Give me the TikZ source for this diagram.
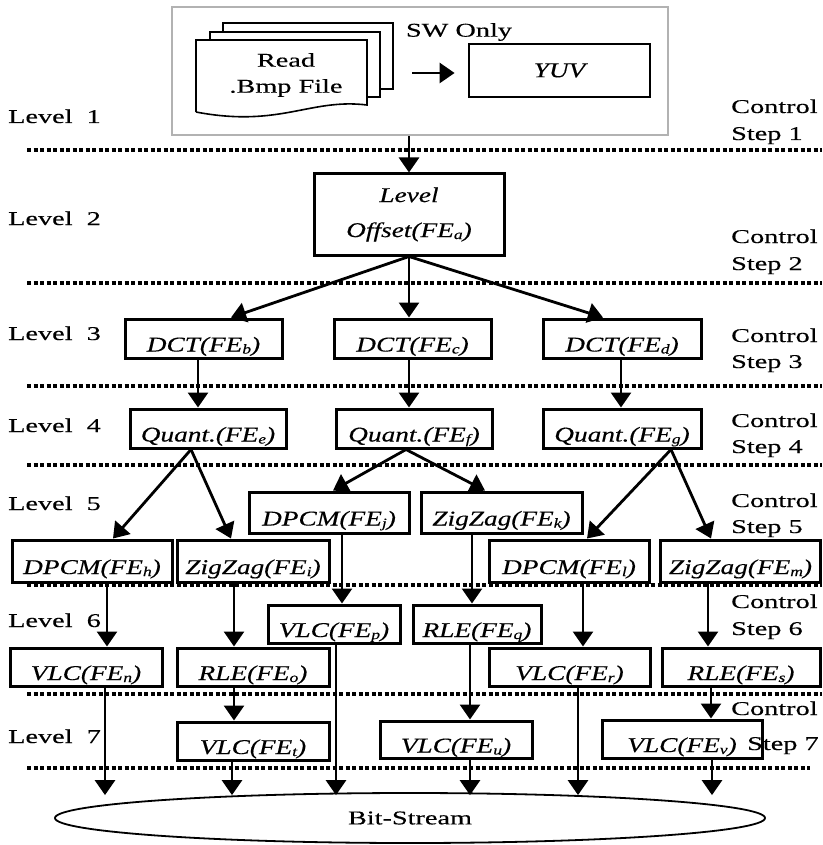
\documentclass[tikz,border=0pt]{standalone}
\usepackage{fontspec}
\setmainfont{Liberation Serif}[FakeStretch=1.45,FakeBold=0.3]
\newfontfamily\boxfont{Liberation Serif}[FakeStretch=1.3,FakeBold=0.3]
\usetikzlibrary{arrows.meta,shapes.geometric}
\newcommand\fsb[1]{\raisebox{-2pt}{\fontsize{13.5}{13.5}\selectfont #1}}
\newcommand\FE[1]{(FE\fsb{#1})}
\begin{document}
\begin{tikzpicture}[x=1pt,y=-1pt,
  font=\fontsize{19.5}{27}\selectfont,
  arr/.style={line width=2.8pt,-{Triangle[length=15pt,width=20pt]}},
  fbox/.style={draw,line width=3pt,inner xsep=0pt,inner ysep=0pt,text height=28pt,text depth=2pt,font=\boxfont\fontsize{21}{27}\selectfont\itshape},
  lab/.style={inner sep=0pt,text height=14pt,text depth=4pt,anchor=west},
  dots/.style={line width=3.2pt,dash pattern=on 4pt off 2.5pt},
  doc/.style={draw,line width=1.6pt,fill=white}
]
\useasboundingbox (0,0) rectangle (822,845);

% top software-only group
\node[draw=black!30,line width=2.6pt,minimum width=496pt,minimum height=128pt,inner sep=0pt] (sw) at (420,71) {};
\draw[doc] (223,23) rectangle (393,89);
\draw[doc] (210,32) rectangle (380,97);
\draw[doc] (196,112) -- (196,40) -- (367,40) -- (367,105) .. controls (310,98) and (280,128) .. (196,112);
\node[align=center,font=\fontsize{19.5}{26}\selectfont] (read) at (286,75) {Read\\.Bmp File};
\node[inner sep=0pt] (swonly) at (459,32) {SW Only};
\node[draw,line width=2.8pt,minimum width=181pt,minimum height=53pt,inner sep=0pt,font=\boxfont\fontsize{21}{27}\selectfont\itshape] (yuv) at (559.5,70.5) {YUV};
\coordinate (docedge) at (393,73);
\draw[arr,shorten <=19pt,shorten >=13pt] (docedge) -- (docedge -| yuv.west);

% level offset
\node[draw,line width=3pt,minimum width=190pt,minimum height=81pt,inner sep=0pt,align=center,font=\boxfont\fontsize{21}{35}\selectfont\itshape] (LO) at (409,214.5) {Level\\Offset\FE{a}};
\draw[arr] (sw.south -| LO.north) -- (LO.north);

% level 3
\node[fbox,minimum width=157pt,minimum height=39pt] (b) at (203.5,338.5) {DCT\FE{b}};
\node[fbox,minimum width=157pt,minimum height=39pt] (c) at (412.5,338.5) {DCT\FE{c}};
\node[fbox,minimum width=158pt,minimum height=39pt] (d) at (622,338.5) {DCT\FE{d}};
% level 4
\node[fbox,minimum width=156pt,minimum height=39pt] (e) at (208,428.5) {Quant.\FE{e}};
\node[fbox,minimum width=156pt,minimum height=39pt] (f) at (414,428.5) {Quant.\FE{f}};
\node[fbox,minimum width=158pt,minimum height=39pt] (g) at (622,428.5) {Quant.\FE{g}};
% level 5
\node[fbox,minimum width=160pt,minimum height=41pt] (j) at (329,512.5) {DPCM\FE{j}};
\node[fbox,minimum width=161pt,minimum height=41pt] (k) at (501.5,512.5) {ZigZag\FE{k}};
\node[fbox,minimum width=160pt,minimum height=42pt] (h) at (92,561) {DPCM\FE{h}};
\node[fbox,minimum width=152pt,minimum height=42pt] (i) at (253,561) {ZigZag\FE{i}};
\node[fbox,minimum width=160pt,minimum height=42pt] (l) at (569,561) {DPCM\FE{l}};
\node[fbox,minimum width=160pt,minimum height=42pt] (m) at (740.5,561) {ZigZag\FE{m}};
% level 6
\node[fbox,minimum width=132pt,minimum height=38pt] (p) at (334,624) {VLC\FE{p}};
\node[fbox,minimum width=128pt,minimum height=38pt] (q) at (477,624) {RLE\FE{q}};
\node[fbox,minimum width=152pt,minimum height=38pt] (n) at (86,667) {VLC\FE{n}};
\node[fbox,minimum width=152pt,minimum height=38pt] (o) at (253,667) {RLE\FE{o}};
\node[fbox,minimum width=161pt,minimum height=38pt] (r) at (569.5,667) {VLC\FE{r}};
\node[fbox,minimum width=158pt,minimum height=38pt] (s) at (741,667) {RLE\FE{s}};

% side labels
\foreach \n/\y in {1/118,2/220,3/335,4/427,5/505,6/622,7/738}
  \node[lab] (lev\n) at (8,\y) {Level~~\n};
\foreach \n/\ya/\yb in {1/108/135,2/238/265,3/337/363,4/422/448,5/502/528,6/603/630}{
  \node[lab] (ctl\n) at (731,\ya) {Control};
  \node[lab] (stp\n) at (731,\yb) {Step \n};
}
\node[lab] (ctl7) at (731,710) {Control};
\node[lab] (stp7) at (747,745) {Step 7};

% level 7
\node[fbox,minimum width=152pt,minimum height=38pt] (t) at (253,741) {VLC\FE{t}};
\node[fbox,minimum width=152pt,minimum height=37pt] (u) at (456,739.5) {VLC\FE{u}};
\node[fbox,minimum width=160pt,minimum height=38pt] (v) at (682,739) {VLC\FE{v}};

% bit-stream
\node[ellipse,draw,line width=1.8pt,minimum width=710pt,minimum height=50pt,inner sep=0pt] (bs) at (410,818) {Bit-Stream};

% dotted step separators
\foreach \y in {150,283,386,465,585,694}
  \draw[dots] (27,\y) -- (822,\y);
\draw[dots] (27,768) -- (810,768);

% connectors
\draw[arr] (LO.south) -- (b.north -| 231,0);
\draw[arr] (LO.south) -- (c.north -| 409,0);
\draw[arr] (LO.south) -- (d.north -| 603,0);
\draw[arr] (b.south -| 198,0) -- (e.north -| 198,0);
\draw[arr] (c.south -| 409,0) -- (f.north -| 409,0);
\draw[arr] (d.south -| 621,0) -- (g.north -| 621,0);
\draw[arr] (e.south -| 191,0) -- (h.north -| 113,0);
\draw[arr] (e.south -| 191,0) -- (i.north -| 231,0);
\draw[arr] (f.south -| 406,0) -- (j.north -| 333,0);
\draw[arr] (f.south -| 406,0) -- (k.north -| 485,0);
\draw[arr] (g.south -| 671,0) -- (l.north -| 587,0);
\draw[arr] (g.south -| 671,0) -- (m.north -| 711,0);
\draw[arr] (h.south -| 107,0) -- (n.north -| 107,0);
\draw[arr] (i.south -| 234,0) -- (o.north -| 234,0);
\draw[arr] (j.south -| 342,0) -- (p.north -| 342,0);
\draw[arr] (k.south -| 472,0) -- (q.north -| 472,0);
\draw[arr] (l.south -| 583,0) -- (r.north -| 583,0);
\draw[arr] (m.south -| 708,0) -- (s.north -| 708,0);
\draw[arr] (o.south -| 234,0) -- (t.north -| 234,0);
\draw[arr] (q.south -| 470,0) -- (u.north -| 470,0);
\draw[arr] (s.south -| 711,0) -- (v.north -| 711,0);
\draw[arr] (n.south -| 105,0) -- ([yshift=-3pt]bs.north -| 105,0);
\draw[arr] (t.south -| 232,0) -- ([yshift=-3pt]bs.north -| 232,0);
\draw[arr] (p.south -| 336,0) -- ([yshift=-3pt]bs.north -| 336,0);
\draw[arr] (u.south -| 470,0) -- ([yshift=-3pt]bs.north -| 470,0);
\draw[arr] (r.south -| 578,0) -- ([yshift=-3pt]bs.north -| 578,0);
\draw[arr] (v.south -| 712,0) -- ([yshift=-3pt]bs.north -| 712,0);
\end{tikzpicture}
\end{document}
